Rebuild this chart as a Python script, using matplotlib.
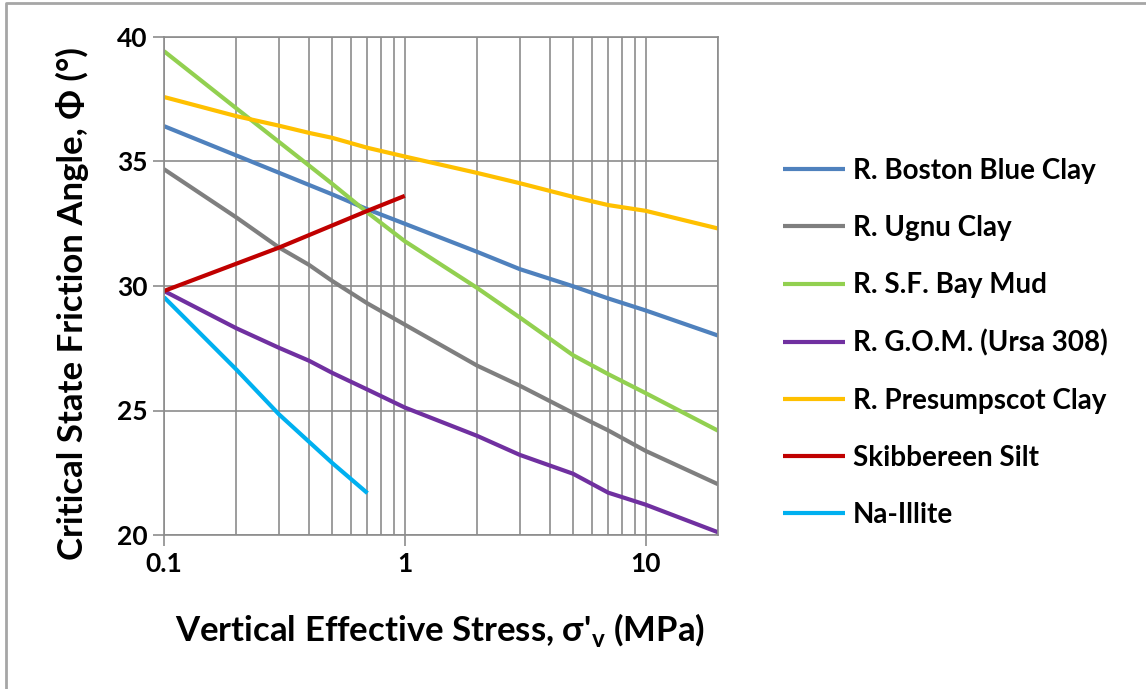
import numpy as np
import matplotlib
matplotlib.use('Agg')
from matplotlib import pyplot as plt
from matplotlib.ticker import FixedLocator, NullFormatter
from matplotlib.lines import Line2D

plt.rcParams['font.family'] = ['Lato', 'DejaVu Sans']
plt.rcParams['font.weight'] = 'bold'
plt.rcParams['mathtext.fontset'] = 'custom'

# stress values (MPa) read at gridlines
x_long = [0.1, 0.2, 0.3, 0.4, 0.5, 0.7, 1, 2, 3, 5, 7, 10, 20]
x_short = [0.1, 0.2, 0.3, 0.5, 0.7]
x_red = [0.1, 0.3, 0.7, 1]

boston = [36.42, 35.24, 34.55, 34.06, 33.68, 33.08, 32.5, 31.37, 30.68, 29.99, 29.5, 29.02, 28.01]
ugnu = [34.69, 32.75, 31.55, 30.85, 30.2, 29.3, 28.45, 26.8, 26.0, 24.9, 24.2, 23.38, 22.04]
sfbay = [39.43, 37.13, 35.79, 34.84, 34.1, 32.95, 31.8, 29.92, 28.74, 27.22, 26.46, 25.7, 24.19]
gom = [29.8, 28.3, 27.52, 27.0, 26.51, 25.84, 25.12, 23.98, 23.22, 22.46, 21.7, 21.22, 20.11]
presumpscot = [37.59, 36.82, 36.44, 36.15, 35.95, 35.55, 35.2, 34.54, 34.13, 33.58, 33.25, 33.02, 32.31]
skibbereen = [29.8, 31.54, 33.02, 33.62]
illite = [29.55, 26.64, 24.85, 22.89, 21.68]

names = ['R. Boston Blue Clay', 'R. Ugnu Clay', 'R. S.F. Bay Mud', 'R. G.O.M. (Ursa 308)',
         'R. Presumpscot Clay', 'Skibbereen Silt', 'Na-Illite']
colors = ['#4F81BD', '#7F7F7F', '#92D050', '#7030A0', '#FFC000', '#C00000', '#00B0F0']

fig = plt.figure(figsize=(11.46, 6.89), dpi=100)
ax = fig.add_axes([164/1146, 1-535/689, 554/1146, 498/689])

series = [(x_long, boston), (x_long, ugnu), (x_long, sfbay), (x_long, gom),
          (x_long, presumpscot), (x_red, skibbereen), (x_short, illite)]
for (xs, ys), nm, c in zip(series, names, colors):
    ax.plot(xs, ys, color=c, lw=3, label=nm, solid_capstyle='butt')

ax.set_xscale('log')
ax.set_xlim(0.1, 20)
ax.set_ylim(20, 40)
ax.xaxis.set_major_locator(FixedLocator([0.1, 1, 10]))
ax.xaxis.set_minor_locator(FixedLocator([m*d for d in [0.1, 1, 10] for m in range(2, 10) if m*d <= 20]))
ax.xaxis.set_minor_formatter(NullFormatter())
ax.set_xticklabels(['0.1', '1', '10'])
ax.set_yticks([20, 25, 30, 35, 40])
ax.grid(True, which='both', axis='x', color='#8C8C8C', lw=1.2)
ax.grid(True, which='major', axis='y', color='#8C8C8C', lw=1.2)
ax.tick_params(which='major', length=8, width=1.2, color='#8C8C8C', labelsize=19, pad=4)
ax.tick_params(which='minor', length=0)
for s in ax.spines.values():
    s.set_color('#8C8C8C')
    s.set_linewidth(1.2)

fig.text(72/1146, 1-304/689, 'Critical State Friction Angle, Φ (°)', rotation=90,
         ha='center', va='center', fontsize=25, fontweight='bold')
fig.text(440/1146, 1-630/689, r"Vertical Effective Stress, σ'$_\mathregular{v}$ (MPa)",
         ha='center', va='center', fontsize=25, fontweight='bold')

ax.legend(loc='upper left', bbox_to_anchor=(783/1146, 1-158/689), bbox_transform=fig.transFigure,
          frameon=False, fontsize=20, handlelength=2.23, handletextpad=0.29,
          labelspacing=1.12, borderpad=0, borderaxespad=0)

# outer frame (top and left edges)
fig.add_artist(Line2D([6/1146, 6/1146, 1], [0, 1-3/689, 1-3/689], color='#A6A6A6', lw=2,
                      transform=fig.transFigure))

fig.savefig('out.png', dpi=100)
